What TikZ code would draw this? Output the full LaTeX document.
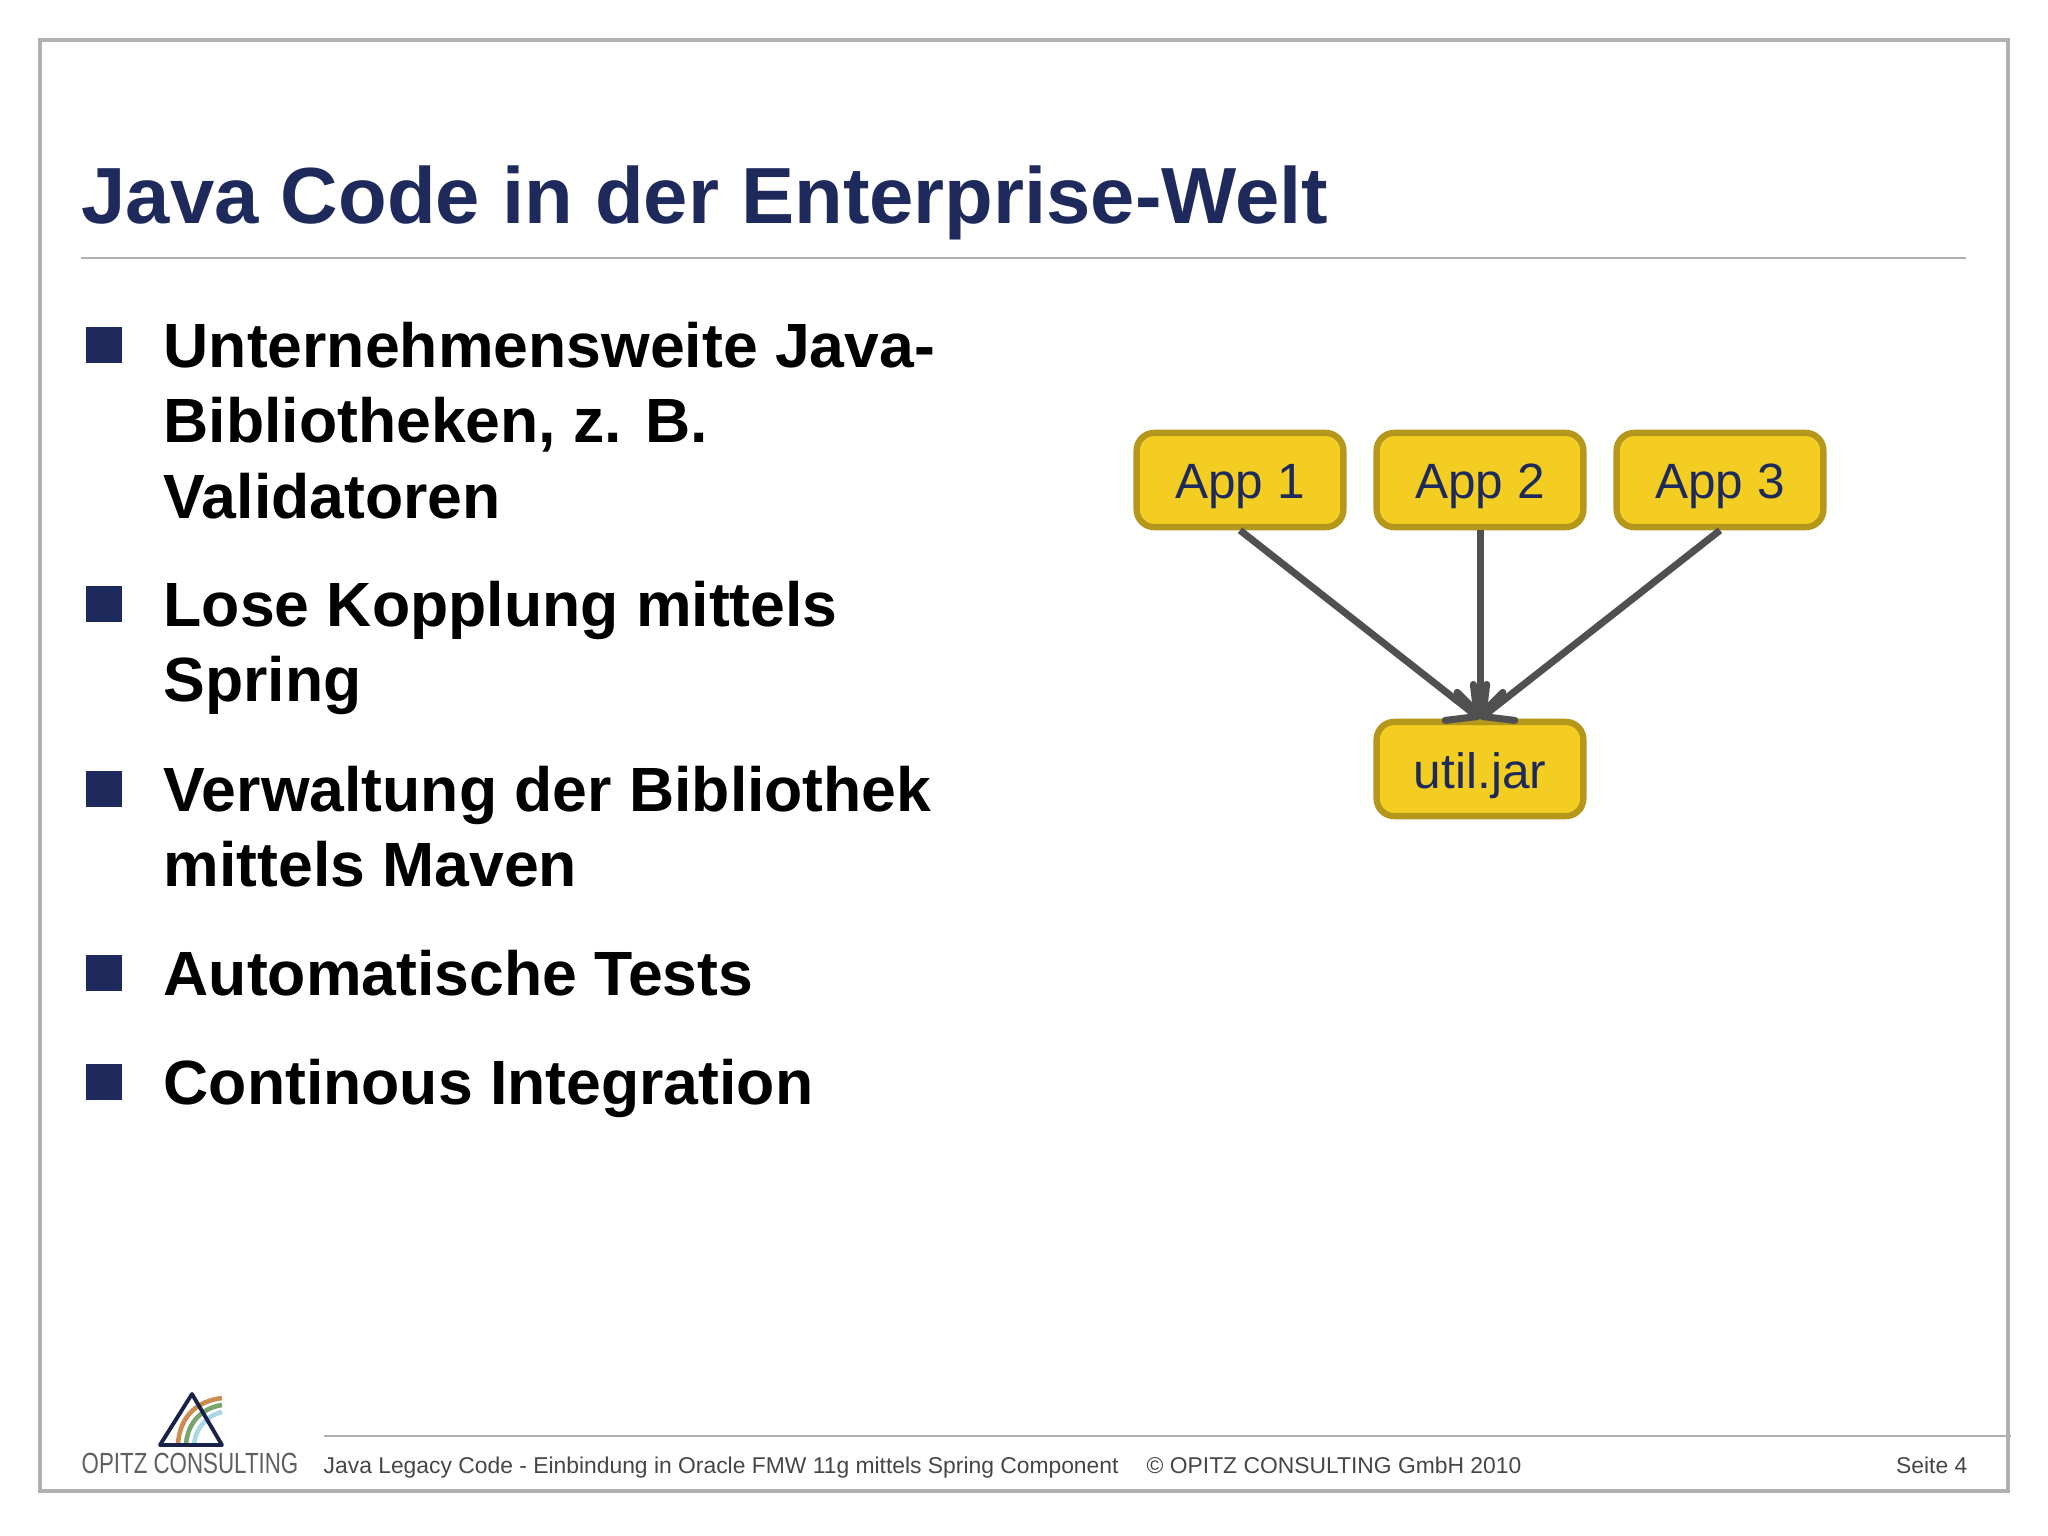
\documentclass[tikz,border=0pt]{standalone}
\usepackage{fontspec}
\setmainfont{Liberation Sans}
\usepackage{xcolor}
\usepackage{tikz}
\usetikzlibrary{arrows.meta,positioning}
\definecolor{navytitle}{RGB}{31,42,92}
\definecolor{boxyellow}{RGB}{243,205,34}
\definecolor{boxedge}{RGB}{181,151,28}
\definecolor{arrowgray}{RGB}{80,80,80}
\definecolor{framegray}{RGB}{176,176,176}
\definecolor{footgray}{RGB}{70,70,70}
\definecolor{logogray}{RGB}{95,95,95}
\definecolor{arcorange}{RGB}{205,140,80}
\definecolor{arcgreen}{RGB}{120,165,110}
\definecolor{arcblue}{RGB}{170,215,230}

\tikzset{
    boxnode/.style={draw=boxedge, fill=boxyellow, line width=1.8pt, rounded corners=5pt,
        minimum width=58.8pt, minimum height=26.8pt, inner sep=0pt, text=navytitle,
        text height=10.8pt, text depth=0pt, font=\fontsize{14.1}{16}\selectfont},
    depline/.style={draw=arrowgray, line width=2pt, -{Straight Barb[round,length=6.5pt,width=13pt]}},
    bullettext/.style={anchor=north west, inner sep=0pt, align=left,
        font=\fontsize{17.78}{21.45}\selectfont\bfseries},
    bulletmark/.style={fill=navytitle, inner sep=0pt, minimum size=10pt},
    foottext/.style={anchor=base west, inner sep=0pt, text=footgray, font=\fontsize{6.5}{8}\selectfont},
    rulegray/.style={draw=framegray, line width=0.8pt}
}

\begin{document}
\begin{tikzpicture}[x=0.01cm, y=-0.01cm]
    \useasboundingbox (0,0) rectangle (2048,1536);
    \draw[framegray, line width=1.1pt] (40,40) rectangle (2008,1491);

    % Title
    \node[anchor=base west, inner sep=0pt, text=navytitle, font=\fontsize{22.65}{26}\selectfont\bfseries] (title) at (81,223.5) {Java Code in der Enterprise-Welt};
    \draw[rulegray] (81,258) -- (1966,258);

    % Bullets
    \node[bulletmark] (mark1) at (104,345) {};
    \node[bullettext] (item1) at (163,321.5) {Unternehmensweite Java-\\Bibliotheken, z. B.\\Validatoren};
    \node[bulletmark] (mark2) at (104,604) {};
    \node[bullettext] (item2) at (163,580.5) {Lose Kopplung mittels\\Spring};
    \node[bulletmark] (mark3) at (104,789) {};
    \node[bullettext] (item3) at (163,765.5) {Verwaltung der Bibliothek\\mittels Maven};
    \node[bulletmark] (mark4) at (104,973) {};
    \node[bullettext] (item4) at (163,949.5) {Automatische Tests};
    \node[bulletmark] (mark5) at (104,1082) {};
    \node[bullettext] (item5) at (163,1058.5) {Continous Integration};

    % Dependencies
    \node[boxnode] (app1) at (1240,480) {App 1};
    \node[boxnode] (app2) at (1480,480) {App 2};
    \node[boxnode] (app3) at (1720,480) {App 3};
    \node[boxnode] (util) at (1480,769) {util.jar};
    \draw[depline] (app1.south) -- (util.north);
    \draw[depline] (app2.south) -- (util.north);
    \draw[depline] (app3.south) -- (util.north);

    % Logo
    \draw[arcorange, line width=1.3pt] (178,1444) .. controls (180,1415) and (198,1401) .. (222,1398);
    \draw[arcgreen, line width=1.3pt] (186,1444) .. controls (188,1422) and (202,1408) .. (222,1405);
    \draw[arcblue, line width=1.3pt] (194,1444) .. controls (196,1428) and (206,1416) .. (222,1412);
    \draw[navytitle!80!black, line width=1.1pt, line join=round] (192,1394) -- (222,1445) -- (160,1445) -- cycle;
    \node[anchor=base, inner sep=0pt, text=logogray, font=\fontsize{8.3}{10}\selectfont] (logo) at (190,1473) {\scalebox{0.765}[1]{OPITZ CONSULTING}};

    % Footer
    \draw[rulegray] (324,1436) -- (2011,1436);
    \node[foottext] (foot1) at (323,1473) {Java Legacy Code - Einbindung in Oracle FMW 11g mittels Spring Component};
    \node[foottext] (foot2) at (1146,1473) {© OPITZ CONSULTING GmbH 2010};
    \node[foottext, anchor=base east] (foot3) at (1968,1473) {Seite 4};
\end{tikzpicture}
\end{document}
